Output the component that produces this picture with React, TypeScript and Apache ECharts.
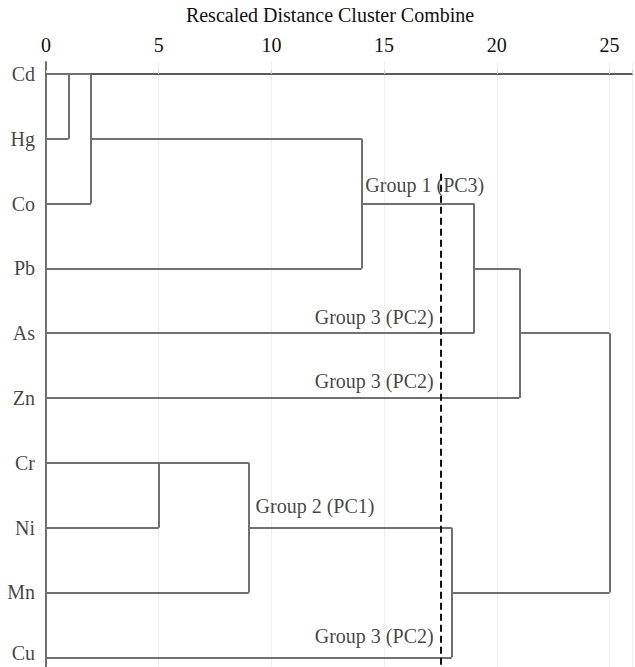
import React, { useEffect, useRef } from "react";
import * as echarts from "echarts";

// Leaves, top to bottom
const leaves = ["Cd", "Hg", "Co", "Pb", "As", "Zn", "Cr", "Ni", "Mn", "Cu"];
// Rescaled distance at which each leaf's own horizontal line ends
const leafEnds = [2, 1, 2, 14, 19, 21, 9, 5, 9, 18];
// Vertical joins: [distance, fromRow, toRow]
const joins: [number, number, number][] = [
  [1, 0, 1],
  [2, 0, 2],
  [14, 1, 3],
  [19, 2, 4],
  [21, 3, 5],
  [25, 4, 8],
  [5, 6, 7],
  [9, 6, 8],
  [18, 7, 9],
];
// Cluster links: [row, fromDistance, toDistance]
const links: [number, number, number][] = [
  [1, 2, 14],
  [2, 14, 19],
  [3, 19, 21],
  [4, 21, 25],
  [7, 9, 18],
  [8, 18, 25],
];
// Cut-off line
const cutDistance = 17.5;
const cutFrom = 1.54;
const cutTo = 9.15;
// Group annotations: [text, distance, row, anchor]
const groupLabels: [string, number, number, "start" | "end"][] = [
  ["Group 1 (PC3)", 14.17, 1.71, "start"],
  ["Group 3 (PC2)", 17.2, 3.75, "end"],
  ["Group 3 (PC2)", 17.2, 4.74, "end"],
  ["Group 2 (PC1)", 9.3, 6.66, "start"],
  ["Group 3 (PC2)", 17.2, 8.67, "end"],
];
const xTicks = [0, 5, 10, 15, 20, 25];
const axisTitle = "Rescaled Distance Cluster Combine";

const FONT = "'Liberation Serif', 'Times New Roman', 'DejaVu Serif', serif";
const FS = 20;
const LINE = "#707070";
const TEXT = "#111";

export default function App() {
  const ref = useRef<HTMLDivElement>(null);
  useEffect(() => {
    if (!ref.current) return;
    const chart = echarts.init(ref.current, undefined, { renderer: "svg" });

    const segs: any[] = [];
    leaves.forEach((_, i) => {
      segs.push({ coords: [[0, i], [leafEnds[i], i]] });
    });
    joins.forEach(([d, a, b]) => segs.push({ coords: [[d, a], [d, b]] }));
    links.forEach(([r, a, b]) => segs.push({ coords: [[a, r], [b, r]] }));

    chart.setOption({
      animation: false,
      textStyle: { fontFamily: FONT },
      grid: { left: 46, right: -2, top: 60, bottom: 0, containLabel: false },
      xAxis: {
        type: "value",
        position: "top",
        min: 0,
        max: 26,
        interval: 5,
        name: axisTitle,
        nameLocation: "middle",
        nameGap: 37,
        nameTextStyle: {
          fontFamily: FONT,
          fontSize: FS,
          color: TEXT,
          padding: [0, 18, 0, 0],
        },
        axisLine: { show: true, lineStyle: { color: "#5a5a5a", width: 2 } },
        axisTick: { show: true, length: 4, lineStyle: { color: "#cfcfcf" } },
        axisLabel: {
          margin: 7,
          fontFamily: FONT,
          fontSize: FS,
          color: TEXT,
          formatter: (v: number) => (xTicks.includes(v) ? String(v) : ""),
        },
        splitLine: { show: true, lineStyle: { color: "#efefef", width: 1 } },
      },
      yAxis: {
        type: "value",
        inverse: true,
        min: -0.185,
        max: 9.15,
        axisLine: { show: true, onZero: false, lineStyle: { color: LINE, width: 2 } },
        axisTick: { show: false },
        axisLabel: { show: false },
        splitLine: { show: false },
      },
      series: [
        {
          type: "lines",
          coordinateSystem: "cartesian2d",
          polyline: false,
          silent: true,
          lineStyle: { color: LINE, width: 2, opacity: 1 },
          data: segs,
        },
        {
          type: "lines",
          coordinateSystem: "cartesian2d",
          silent: true,
          lineStyle: { color: "#111", width: 2, type: [7, 4], opacity: 1 },
          data: [{ coords: [[cutDistance, cutFrom], [cutDistance, cutTo]] }],
          z: 5,
        },
        {
          type: "scatter",
          symbolSize: 0,
          silent: true,
          data: leaves.map((n, i) => ({
            value: [0, i],
            name: n,
            label: { offset: [0, i === leaves.length - 1 ? -4 : 0] },
          })),
          label: {
            show: true,
            position: "left",
            distance: 11,
            formatter: (p: any) => p.name,
            fontFamily: FONT,
            fontSize: FS,
            color: TEXT,
          },
        },
        {
          type: "scatter",
          symbolSize: 0,
          silent: true,
          z: 6,
          data: groupLabels.map(([t, d, r, a]) => ({
            value: [d, r],
            name: t,
            label: { position: a === "start" ? "right" : "left" },
          })),
          label: {
            show: true,
            distance: 0,
            formatter: (p: any) => p.name,
            fontFamily: FONT,
            fontSize: FS,
            color: TEXT,
          },
        },
      ],
    });
    return () => chart.dispose();
  }, []);
  return (
    <div
      ref={ref}
      style={{ position: "fixed", left: 0, top: 0, width: 635, height: 667, background: "#fff" }}
    />
  );
}
